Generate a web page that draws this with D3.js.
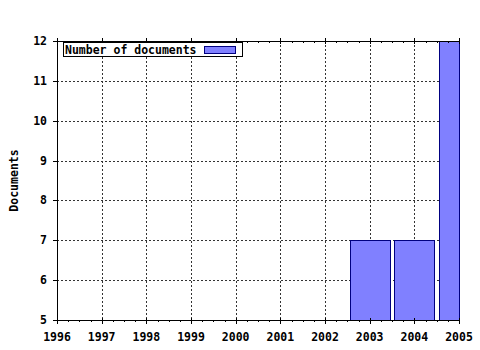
<!DOCTYPE html>
<html>
<head>
<meta charset="utf-8">
<script src="https://cdn.jsdelivr.net/npm/d3@7"></script>
<style>
  body { margin: 0; background: #fff; }
  text { font-family: "DejaVu Sans Mono", monospace; font-weight: bold; font-size: 11.5px; fill: #000; }
</style>
</head>
<body>
<div id="chart"></div>
<script>
// Data
var years = [1996, 1997, 1998, 1999, 2000, 2001, 2002, 2003, 2004, 2005];
var barYears = [2003, 2004, 2005];
var barCounts = [7, 7, 12];
var yTicks = [5, 6, 7, 8, 9, 10, 11, 12];
var seriesName = 'Number of documents';
var yTitle = 'Documents';

(function () {
  var width = 480, height = 350;
  var plotLeft = 57, plotRight = 459, plotTop = 41, plotBottom = 320;

  var svg = d3.select('#chart').append('svg')
      .attr('width', width)
      .attr('height', height);

  var x = d3.scaleLinear().domain([1996, 2005]).range([plotLeft, plotRight]);
  var y = d3.scaleLinear().domain([5, 12]).range([plotBottom, plotTop]);
  var px = function (v) { return Math.round(v) + 0.5; };

  // Dotted grid
  var grid = svg.append('g')
      .attr('stroke', '#333')
      .attr('stroke-width', 1)
      .attr('stroke-dasharray', '2,2')
      .attr('shape-rendering', 'crispEdges');

  grid.selectAll('line.v')
      .data(years.slice(1, -1))
      .enter().append('line')
      .attr('x1', function (d) { return px(x(d)); })
      .attr('x2', function (d) { return px(x(d)); })
      .attr('y1', plotTop)
      .attr('y2', plotBottom);

  grid.selectAll('line.h')
      .data(yTicks.slice(1, -1))
      .enter().append('line')
      .attr('x1', plotLeft)
      .attr('x2', plotRight)
      .attr('y1', function (d) { return px(y(d)); })
      .attr('y2', function (d) { return px(y(d)); });

  // Bars, cut at the right edge of the plot
  var band = x(1997) - x(1996);
  var barW = band * 0.9;
  svg.append('g')
      .selectAll('rect')
      .data(barYears.map(function (d, i) { return { year: d, value: barCounts[i] }; }))
      .enter().append('rect')
      .attr('x', function (d) { return px(x(d.year) - barW / 2); })
      .attr('y', function (d) { return px(y(d.value)); })
      .attr('width', function (d) {
        var x0 = Math.round(x(d.year) - barW / 2);
        var x1 = Math.min(Math.round(x(d.year) + barW / 2), plotRight);
        return x1 - x0;
      })
      .attr('height', function (d) { return Math.round(y(5)) - Math.round(y(d.value)); })
      .attr('fill', '#8080ff')
      .attr('stroke', '#000080')
      .attr('stroke-width', 1)
      .attr('shape-rendering', 'crispEdges');

  // Axes
  var axes = svg.append('g')
      .attr('stroke', '#000')
      .attr('stroke-width', 1)
      .attr('shape-rendering', 'crispEdges');

  axes.append('line')
      .attr('x1', plotLeft + 0.5).attr('x2', plotLeft + 0.5)
      .attr('y1', plotTop).attr('y2', plotBottom + 1);
  axes.append('line')
      .attr('x1', plotLeft - 4).attr('x2', plotRight + 1)
      .attr('y1', plotBottom + 0.5).attr('y2', plotBottom + 0.5);
  axes.append('line')
      .attr('x1', plotLeft - 4).attr('x2', plotRight + 1)
      .attr('y1', plotTop + 0.5).attr('y2', plotTop + 0.5);

  // y ticks
  axes.selectAll('line.yt')
      .data(yTicks)
      .enter().append('line')
      .attr('x1', plotLeft - 4).attr('x2', plotLeft)
      .attr('y1', function (d) { return px(y(d)); })
      .attr('y2', function (d) { return px(y(d)); });

  // x major ticks
  axes.selectAll('line.xb')
      .data(years)
      .enter().append('line')
      .attr('x1', function (d) { return px(x(d)); })
      .attr('x2', function (d) { return px(x(d)); })
      .attr('y1', plotBottom - 2).attr('y2', plotBottom + 4);
  axes.selectAll('line.xt')
      .data(years)
      .enter().append('line')
      .attr('x1', function (d) { return px(x(d)); })
      .attr('x2', function (d) { return px(x(d)); })
      .attr('y1', plotTop - 3).attr('y2', plotTop + 3);

  // x minor ticks, quarter years
  var minor = [];
  years.slice(0, -1).forEach(function (yr) {
    [0.25, 0.5, 0.75].forEach(function (f) { minor.push(yr + f); });
  });
  axes.selectAll('line.mb')
      .data(minor)
      .enter().append('line')
      .attr('x1', function (d) { return px(x(d)); })
      .attr('x2', function (d) { return px(x(d)); })
      .attr('y1', plotBottom).attr('y2', plotBottom + 2);
  axes.selectAll('line.mt')
      .data(minor)
      .enter().append('line')
      .attr('x1', function (d) { return px(x(d)); })
      .attr('x2', function (d) { return px(x(d)); })
      .attr('y1', plotTop).attr('y2', plotTop + 2);

  // Tick labels
  svg.append('g')
      .selectAll('text')
      .data(years)
      .enter().append('text')
      .attr('x', function (d) { return x(d); })
      .attr('y', 341)
      .attr('text-anchor', 'middle')
      .text(function (d) { return d; });

  svg.append('g')
      .selectAll('text')
      .data(yTicks)
      .enter().append('text')
      .attr('x', 47)
      .attr('y', function (d) { return y(d) + 4; })
      .attr('text-anchor', 'end')
      .text(function (d) { return d; });

  // Y axis title
  svg.append('text')
      .attr('transform', 'translate(18,' + ((plotTop + plotBottom) / 2) + ') rotate(-90)')
      .attr('text-anchor', 'middle')
      .text(yTitle);

  // Legend
  var legend = svg.append('g').attr('shape-rendering', 'crispEdges');
  legend.append('rect')
      .attr('x', 63.5).attr('y', 42.5)
      .attr('width', 179).attr('height', 14)
      .attr('fill', '#fff')
      .attr('stroke', '#000');
  legend.append('text')
      .attr('x', 65)
      .attr('y', 54)
      .text(seriesName);
  legend.append('rect')
      .attr('x', 204.5).attr('y', 46.5)
      .attr('width', 31).attr('height', 7)
      .attr('fill', '#8080ff')
      .attr('stroke', '#000080');
})();
</script>
</body>
</html>
